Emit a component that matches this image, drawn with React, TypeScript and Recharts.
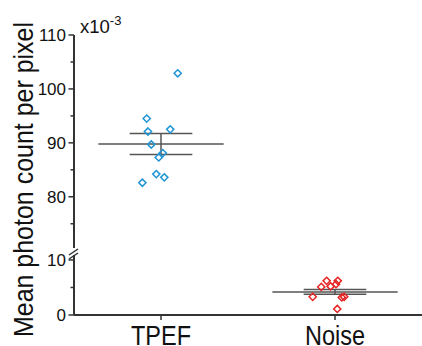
import React from "react";
import { ComposedChart, Scatter, XAxis, YAxis, ReferenceLine, Label } from "recharts";

// ---- data ----
const categories = ["TPEF", "Noise"];
const categoryCenters = [0.5, 1.5];

const tpefValues = [102.9, 94.5, 92.1, 92.5, 89.7, 88.1, 87.3, 84.2, 83.6, 82.6];
const tpefJitter = [0.596, 0.418, 0.425, 0.553, 0.444, 0.51, 0.487, 0.473, 0.519, 0.393];

const noiseValues = [6.2, 6.2, 5.6, 5.1, 5.2, 3.3, 3.2, 3.3, 1.1];
const noiseJitter = [1.452, 1.516, 1.506, 1.421, 1.475, 1.372, 1.539, 1.553, 1.513];

const groupMeans = [89.8, 4.2];
const groupSems = [1.95, 0.45];

const upperMajorTicks = [80, 90, 100, 110];
const upperMinorTicks = [75, 85, 95, 105];
const lowerMajorTicks = [0, 10];
const lowerMinorTicks = [5];

// ---- styling ----
const FONT = "'Liberation Sans', Arial, sans-serif";
const AXIS = "#333";
const LINE = "#555";
const BLUE = "#1f95d6";
const RED = "#e62424";
const W = 422;
const LEFT = 74;

const tpefData = tpefValues.map((v, i) => ({ x: tpefJitter[i], y: v }));
const noiseData = noiseValues.map((v, i) => ({ x: noiseJitter[i], y: v }));

const Diamond = (color: string) => (props: any) => {
  const { cx, cy } = props;
  if (cx == null || cy == null) return <g />;
  const r = 3.6;
  return (
    <polygon
      points={`${cx},${cy - r} ${cx + r},${cy} ${cx},${cy + r} ${cx - r},${cy}`}
      fill="none"
      stroke={color}
      strokeWidth={1.5}
    />
  );
};

const makeYTick = (majors: number[]) => (props: any) => {
  const { x, y, payload } = props;
  const major = majors.includes(payload.value);
  return (
    <g>
      <line x1={x - (major ? 5.5 : 3.5)} x2={x} y1={y} y2={y} stroke={AXIS} strokeWidth={1.5} />
      {major && (
        <text x={x - 8} y={y} dy="0.36em" textAnchor="end" fontSize={17} fontFamily={FONT} fill="#111">
          {payload.value}
        </text>
      )}
    </g>
  );
};

const XTick = (props: any) => {
  const { x, y, payload } = props;
  const idx = categoryCenters.indexOf(payload.value);
  return (
    <g>
      <line x1={x} x2={x} y1={y} y2={y + 5} stroke={AXIS} strokeWidth={1.5} />
      <text
        transform={`translate(${x},${y + 29.5}) scale(0.87,1)`}
        x={0}
        y={0}
        textAnchor="middle"
        fontSize={27}
        fontFamily={FONT}
        fill="#111"
      >
        {categories[idx]}
      </text>
    </g>
  );
};

const meanLines = (i: number) => {
  const c = categoryCenters[i];
  const m = groupMeans[i];
  const s = groupSems[i];
  const meanHalf = 0.36;
  const capHalf = 0.18;
  return [
    <ReferenceLine key={`m${i}`} segment={[{ x: c - meanHalf, y: m }, { x: c + meanHalf, y: m }]} stroke={LINE} strokeWidth={1.5} />,
    <ReferenceLine key={`t${i}`} segment={[{ x: c - capHalf, y: m + s }, { x: c + capHalf, y: m + s }]} stroke={LINE} strokeWidth={1.5} />,
    <ReferenceLine key={`b${i}`} segment={[{ x: c - capHalf, y: m - s }, { x: c + capHalf, y: m - s }]} stroke={LINE} strokeWidth={1.5} />,
    <ReferenceLine key={`v${i}`} segment={[{ x: c, y: m - s }, { x: c, y: m + s }]} stroke={LINE} strokeWidth={1.5} />,
  ];
};

const ExpLabel = (props: any) => {
  const vb = props.viewBox || { x: 0, y: 35, width: LEFT };
  return (
    <text x={vb.x + vb.width + 6} y={vb.y - 2.5} fontSize={18.5} fontFamily={FONT} fill="#111">
      <tspan>x10</tspan>
      <tspan dy={-8} fontSize={13}>-3</tspan>
    </text>
  );
};

export default function App() {
  return (
    <div style={{ position: "absolute", left: 0, top: 0, width: W, height: 346, background: "#fff" }}>
      <div style={{ position: "absolute", left: 0, top: 0 }}>
        <ComposedChart width={W} height={260} margin={{ top: 35, right: 0, bottom: 12, left: 0 }}>
          <XAxis type="number" dataKey="x" domain={[0, 2]} hide />
          <YAxis
            type="number"
            dataKey="y"
            width={LEFT}
            domain={[70.5, 110]}
            allowDataOverflow
            ticks={[...upperMinorTicks, ...upperMajorTicks].sort((a, b) => a - b)}
            interval={0}
            tickSize={0}
            tickMargin={0}
            tickLine={false}
            tick={makeYTick(upperMajorTicks)}
            axisLine={{ stroke: AXIS, strokeWidth: 2 }}
          >
            <Label content={<ExpLabel />} />
          </YAxis>
          {meanLines(0)}
          <Scatter data={tpefData} dataKey="y" shape={Diamond(BLUE)} isAnimationActive={false} />
        </ComposedChart>
      </div>
      <div style={{ position: "absolute", left: 0, top: 250 }}>
        <ComposedChart width={W} height={96} margin={{ top: 5, right: 0, bottom: 0, left: 0 }}>
          <XAxis
            type="number"
            dataKey="x"
            domain={[0, 2]}
            ticks={categoryCenters}
            interval={0}
            height={31}
            tickSize={0}
            tickMargin={0}
            tickLine={false}
            tick={<XTick />}
            axisLine={{ stroke: AXIS, strokeWidth: 2 }}
          />
          <YAxis
            type="number"
            dataKey="y"
            width={LEFT}
            domain={[0, 10.9]}
            allowDataOverflow
            ticks={[...lowerMajorTicks, ...lowerMinorTicks].sort((a, b) => a - b)}
            interval={0}
            tickSize={0}
            tickMargin={0}
            tickLine={false}
            tick={makeYTick(lowerMajorTicks)}
            axisLine={{ stroke: AXIS, strokeWidth: 2 }}
          />
          {meanLines(1)}
          <Scatter data={noiseData} dataKey="y" shape={Diamond(RED)} isAnimationActive={false} />
        </ComposedChart>
      </div>
      <svg width={W} height={346} style={{ position: "absolute", left: 0, top: 0, pointerEvents: "none" }}>
        <line x1={69} y1={255} x2={78} y2={249} stroke={AXIS} strokeWidth={1.5} />
        <line x1={69} y1={259} x2={78} y2={253} stroke={AXIS} strokeWidth={1.5} />
        <text
          x={0}
          y={0}
          transform="translate(32.5,179.5) rotate(-90) scale(0.925,1)"
          textAnchor="middle"
          fontSize={27}
          fontFamily={FONT}
          fill="#111"
        >
          Mean photon count per pixel
        </text>
      </svg>
    </div>
  );
}
